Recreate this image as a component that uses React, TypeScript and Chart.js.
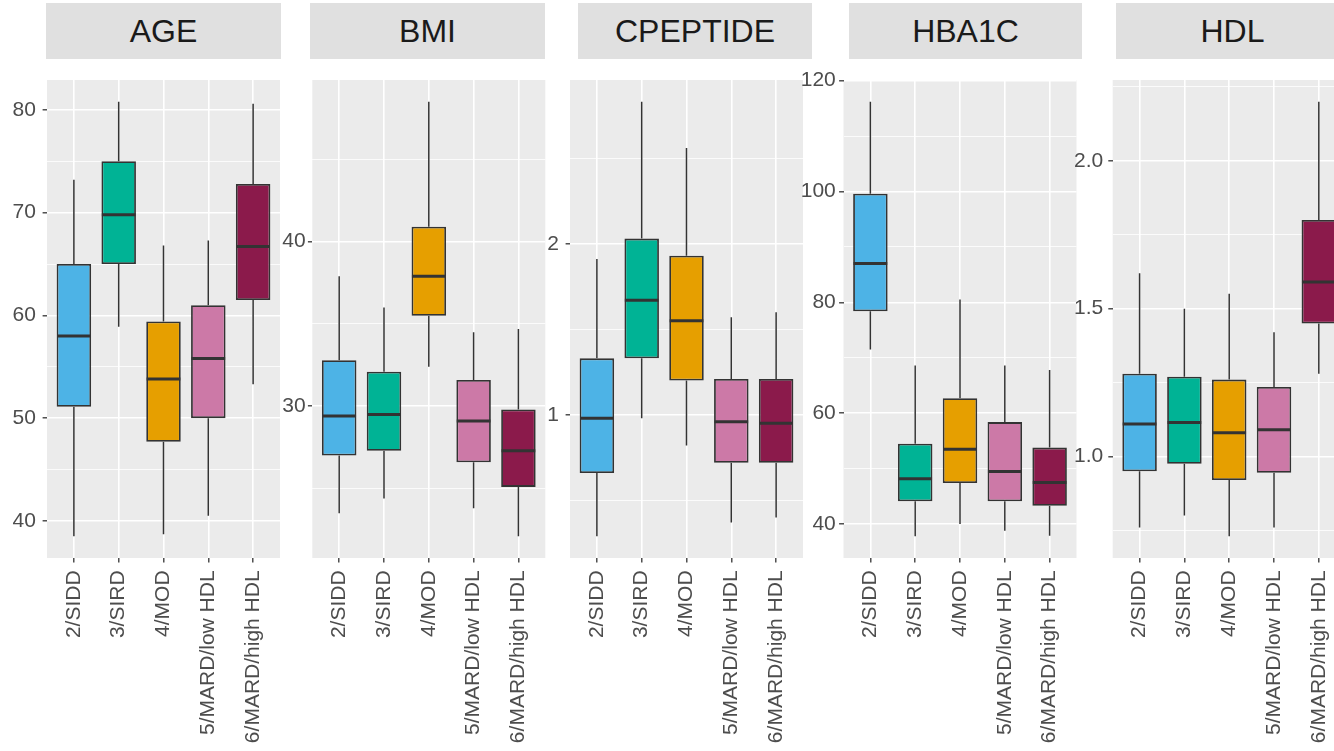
import React, { useEffect, useRef } from 'react';
import { Chart, registerables } from 'chart.js';

Chart.register(...registerables);

// ---------- data ----------
const CATEGORIES = ['2/SIDD', '3/SIRD', '4/MOD', '5/MARD/low HDL', '6/MARD/high HDL'];
const BOX_COLORS = ['#4DB3E6', '#00B395', '#E69F00', '#CC79A7', '#8B1A4B'];

// AGE
const AGE_LOW = [38.5, 58.9, 38.7, 40.5, 53.3];
const AGE_Q1 = [51.1, 65.0, 47.7, 50.0, 61.5];
const AGE_MEDIAN = [58.0, 69.8, 53.8, 55.8, 66.7];
const AGE_Q3 = [65.0, 75.0, 59.4, 61.0, 72.8];
const AGE_HIGH = [73.2, 80.8, 66.8, 67.3, 80.6];
const AGE_MAJOR = [40, 50, 60, 70, 80];
const AGE_LABELS = ['40', '50', '60', '70', '80'];
const AGE_MINOR = [45, 55, 65, 75];

// BMI
const BMI_LOW = [23.5, 24.4, 32.4, 23.8, 22.1];
const BMI_Q1 = [27.0, 27.3, 35.5, 26.6, 25.1];
const BMI_MEDIAN = [29.4, 29.5, 37.9, 29.1, 27.3];
const BMI_Q3 = [32.8, 32.1, 40.9, 31.6, 29.8];
const BMI_HIGH = [37.9, 36.0, 48.5, 34.5, 34.7];
const BMI_MAJOR = [30, 40];
const BMI_LABELS = ['30', '40'];
const BMI_MINOR = [25, 35, 45];

// CPEPTIDE
const CPEP_LOW = [0.29, 0.98, 0.82, 0.37, 0.4];
const CPEP_Q1 = [0.66, 1.33, 1.2, 0.72, 0.72];
const CPEP_MEDIAN = [0.98, 1.67, 1.55, 0.96, 0.95];
const CPEP_Q3 = [1.33, 2.03, 1.93, 1.21, 1.21];
const CPEP_HIGH = [1.91, 2.83, 2.56, 1.57, 1.6];
const CPEP_MAJOR = [1, 2];
const CPEP_LABELS = ['1', '2'];
const CPEP_MINOR = [0.5, 1.5, 2.5];

// HBA1C
const HBA_LOW = [71.5, 37.8, 40.0, 38.8, 37.9];
const HBA_Q1 = [78.4, 44.1, 47.4, 44.1, 43.3];
const HBA_MEDIAN = [87.0, 48.2, 53.5, 49.5, 47.5];
const HBA_Q3 = [99.6, 54.5, 62.7, 58.4, 53.8];
const HBA_HIGH = [116.2, 68.6, 80.5, 68.6, 67.8];
const HBA_MAJOR = [40, 60, 80, 100, 120];
const HBA_LABELS = ['40', '60', '80', '100', '120'];
const HBA_MINOR = [50, 70, 90, 110];

// HDL
const HDL_LOW = [0.76, 0.8, 0.73, 0.76, 1.28];
const HDL_Q1 = [0.95, 0.975, 0.92, 0.945, 1.45];
const HDL_MEDIAN = [1.11, 1.115, 1.08, 1.09, 1.59];
const HDL_Q3 = [1.28, 1.27, 1.26, 1.235, 1.8];
const HDL_HIGH = [1.62, 1.5, 1.55, 1.42, 2.2];
const HDL_MAJOR = [1.0, 1.5, 2.0];
const HDL_LABELS = ['1.0', '1.5', '2.0'];
const HDL_MINOR = [0.75, 1.25, 1.75, 2.25];

const PANELS = [
  { title: 'AGE', low: AGE_LOW, q1: AGE_Q1, med: AGE_MEDIAN, q3: AGE_Q3, high: AGE_HIGH, major: AGE_MAJOR, labels: AGE_LABELS, minor: AGE_MINOR },
  { title: 'BMI', low: BMI_LOW, q1: BMI_Q1, med: BMI_MEDIAN, q3: BMI_Q3, high: BMI_HIGH, major: BMI_MAJOR, labels: BMI_LABELS, minor: BMI_MINOR },
  { title: 'CPEPTIDE', low: CPEP_LOW, q1: CPEP_Q1, med: CPEP_MEDIAN, q3: CPEP_Q3, high: CPEP_HIGH, major: CPEP_MAJOR, labels: CPEP_LABELS, minor: CPEP_MINOR },
  { title: 'HBA1C', low: HBA_LOW, q1: HBA_Q1, med: HBA_MEDIAN, q3: HBA_Q3, high: HBA_HIGH, major: HBA_MAJOR, labels: HBA_LABELS, minor: HBA_MINOR },
  { title: 'HDL', low: HDL_LOW, q1: HDL_Q1, med: HDL_MEDIAN, q3: HDL_Q3, high: HDL_HIGH, major: HDL_MAJOR, labels: HDL_LABELS, minor: HDL_MINOR },
];

// ---------- layout / style ----------
const LAYOUT = [
  { panelLeft: 47, stripLeft: 46, stripWidth: 235, labelGap: 6.7 },
  { panelLeft: 312.3, stripLeft: 310, stripWidth: 235, labelGap: 2.3 },
  { panelLeft: 570, stripLeft: 578, stripWidth: 234, labelGap: 6.7 },
  { panelLeft: 843.5, stripLeft: 849, stripWidth: 233, labelGap: 3.3 },
  { panelLeft: 1112.7, stripLeft: 1116, stripWidth: 233, labelGap: 5 },
];
const PANEL_WIDTH = 233;
const PANEL_TOP = 80;
const PANEL_BOTTOM = 558;
const CANVAS_TOP = 60;
const CANVAS_HEIGHT = 751 - CANVAS_TOP;
const AXIS_SPACE = 50;
const BOX_WIDTH = 0.77;
const FONT = "'Liberation Sans', Arial, Helvetica, sans-serif";
const AXIS_TEXT = '#4D4D4D';
const LINE_DARK = '#333333';

const panelBackground = {
  id: 'panelBackground',
  beforeDraw(chart: any) {
    const { ctx, chartArea: a } = chart;
    ctx.save();
    ctx.fillStyle = '#EBEBEB';
    ctx.fillRect(a.left, a.top, a.right - a.left, a.bottom - a.top);
    ctx.restore();
  },
};

function Panel({ cfg, lay }: { cfg: any; lay: any }) {
  const ref = useRef<HTMLCanvasElement | null>(null);
  const canvasLeft = Math.floor(lay.panelLeft) - AXIS_SPACE;
  const yAxisWidth = lay.panelLeft - canvasLeft;
  const canvasWidth = Math.ceil(yAxisWidth + PANEL_WIDTH);
  const padRight = canvasWidth - yAxisWidth - PANEL_WIDTH;

  useEffect(() => {
    if (!ref.current) return;
    const xs = CATEGORIES.map((_, i) => i + 1);
    const lo = Math.min(...cfg.low);
    const hi = Math.max(...cfg.high);
    const expand = (hi - lo) * 0.05;
    const whiskers: any[] = [];
    xs.forEach((x, i) => {
      whiskers.push({ x, y: cfg.low[i] }, { x, y: cfg.q1[i] }, { x, y: null });
      whiskers.push({ x, y: cfg.q3[i] }, { x, y: cfg.high[i] }, { x, y: null });
    });
    const allTicks = [...cfg.major, ...cfg.minor].sort((a: number, b: number) => a - b);
    const isMajor = (v: number) => cfg.major.some((m: number) => Math.abs(m - v) < 1e-9);
    const halfBox = (ctx: any) => {
      const s = ctx.chart.scales.x;
      return Math.abs(s.getPixelForValue(1 + BOX_WIDTH / 2) - s.getPixelForValue(1)) - 0.4;
    };

    const chart = new Chart(ref.current, {
      type: 'bar',
      data: {
        datasets: [
          {
            type: 'line',
            label: 'median',
            data: xs.map((x, i) => ({ x, y: cfg.med[i] })),
            showLine: false,
            pointStyle: 'line',
            pointRadius: halfBox,
            pointHoverRadius: halfBox,
            pointBorderWidth: 3,
            pointBorderColor: LINE_DARK,
            pointBackgroundColor: LINE_DARK,
            pointRotation: 0,
            order: 0,
          } as any,
          {
            type: 'bar',
            label: 'box',
            data: xs.map((x, i) => ({ x, y: [cfg.q1[i], cfg.q3[i]] })),
            backgroundColor: BOX_COLORS,
            borderColor: LINE_DARK,
            borderWidth: 1.8,
            borderSkipped: false,
            barPercentage: BOX_WIDTH,
            categoryPercentage: 1,
            order: 1,
          } as any,
          {
            type: 'line',
            label: 'whisker',
            data: whiskers,
            borderColor: LINE_DARK,
            borderWidth: 1.5,
            pointRadius: 0,
            pointHoverRadius: 0,
            spanGaps: false,
            fill: false,
            tension: 0,
            order: 2,
          } as any,
        ],
      },
      options: {
        animation: false,
        responsive: false,
        devicePixelRatio: 1,
        events: [],
        layout: { padding: { top: PANEL_TOP - CANVAS_TOP, right: padRight, left: 0, bottom: 0 } },
        plugins: { legend: { display: false }, tooltip: { enabled: false }, title: { display: false } },
        scales: {
          x: {
            type: 'linear',
            min: 0.4,
            max: 5.6,
            offset: false,
            afterBuildTicks: (ax: any) => {
              ax.ticks = xs.map((v) => ({ value: v }));
            },
            afterFit: (ax: any) => {
              ax.height = 751 - PANEL_BOTTOM;
              ax.paddingLeft = 0;
              ax.paddingRight = 0;
            },
            ticks: {
              autoSkip: false,
              minRotation: 90,
              maxRotation: 90,
              padding: 8,
              color: AXIS_TEXT,
              font: { family: FONT, size: 21 },
              callback: (v: any) => CATEGORIES[Math.round(Number(v)) - 1] ?? '',
            },
            grid: {
              offset: false,
              color: '#FFFFFF',
              lineWidth: 1.6,
              tickLength: 4.4,
              tickColor: LINE_DARK,
              tickWidth: 1.3,
            },
            border: { display: false },
          },
          y: {
            type: 'linear',
            min: lo - expand,
            max: hi + expand,
            beginAtZero: false,
            afterBuildTicks: (ax: any) => {
              ax.ticks = allTicks.map((v: number) => ({ value: v }));
            },
            afterFit: (ax: any) => {
              ax.width = yAxisWidth;
              ax.paddingTop = 0;
              ax.paddingBottom = 0;
            },
            ticks: {
              autoSkip: false,
              padding: lay.labelGap,
              color: AXIS_TEXT,
              font: { family: FONT, size: 21 },
              callback: (v: any) => {
                const idx = cfg.major.findIndex((m: number) => Math.abs(m - Number(v)) < 1e-9);
                return idx >= 0 ? cfg.labels[idx] : '';
              },
            },
            grid: {
              color: '#FFFFFF',
              lineWidth: (ctx: any) => (ctx.tick && isMajor(ctx.tick.value) ? 1.6 : 0.8),
              tickLength: 4.4,
              tickColor: (ctx: any) => (ctx.tick && isMajor(ctx.tick.value) ? LINE_DARK : 'rgba(0,0,0,0)'),
              tickWidth: 1.3,
            },
            border: { display: false },
          },
        },
      } as any,
      plugins: [panelBackground],
    });
    return () => chart.destroy();
  }, []);

  return (
    <canvas
      ref={ref}
      width={canvasWidth}
      height={CANVAS_HEIGHT}
      style={{ position: 'absolute', left: canvasLeft, top: CANVAS_TOP, width: canvasWidth, height: CANVAS_HEIGHT }}
    />
  );
}

export default function App() {
  return (
    <div
      style={{
        position: 'absolute',
        left: 0,
        top: 0,
        width: 1334,
        height: 751,
        overflow: 'hidden',
        background: '#FFFFFF',
      }}
    >
      {PANELS.map((p, i) => (
        <div
          key={'strip-' + p.title}
          style={{
            position: 'absolute',
            left: LAYOUT[i].stripLeft,
            top: 3,
            width: LAYOUT[i].stripWidth,
            height: 56,
            lineHeight: '56px',
            background: '#E0E0E0',
            color: '#1A1A1A',
            fontFamily: FONT,
            fontSize: 32,
            textAlign: 'center',
            whiteSpace: 'nowrap',
          }}
        >
          {p.title}
        </div>
      ))}
      {PANELS.map((p, i) => (
        <Panel key={'panel-' + p.title} cfg={p} lay={LAYOUT[i]} />
      ))}
    </div>
  );
}
